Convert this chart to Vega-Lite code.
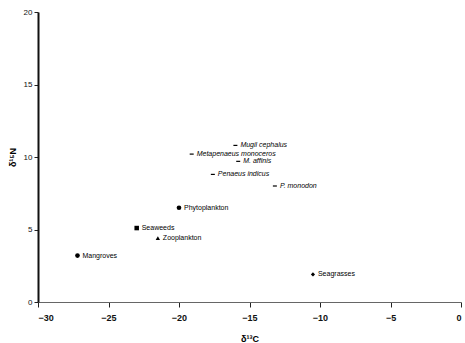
{
  "$schema": "https://vega.github.io/schema/vega-lite/v6.json",
  "width": 423,
  "height": 290,
  "autosize": {"type": "none"},
  "padding": {"left": 38, "top": 12, "right": 4, "bottom": 41},
  "background": "white",
  "config": {"view": {"stroke": null}, "font": "Liberation Sans"},
  "data": {
    "values": [
      {"name": "Mangroves", "c": -27.2, "n": 3.2, "kind": "circle", "group": "source"},
      {"name": "Seaweeds", "c": -23.0, "n": 5.1, "kind": "square", "group": "source"},
      {"name": "Zooplankton", "c": -21.5, "n": 4.4, "kind": "triangle", "group": "source"},
      {"name": "Phytoplankton", "c": -20.0, "n": 6.5, "kind": "circle", "group": "source"},
      {"name": "Seagrasses", "c": -10.5, "n": 1.9, "kind": "diamond", "group": "source"},
      {"name": "Mugil cephalus", "c": -16.0, "n": 10.8, "kind": "dash", "group": "consumer"},
      {"name": "Metapenaeus monoceros", "c": -19.1, "n": 10.2, "kind": "dash", "group": "consumer"},
      {"name": "M. affinis", "c": -15.8, "n": 9.7, "kind": "dash", "group": "consumer"},
      {"name": "Penaeus indicus", "c": -17.6, "n": 8.8, "kind": "dash", "group": "consumer"},
      {"name": "P. monodon", "c": -13.2, "n": 8.0, "kind": "dash", "group": "consumer"}
    ]
  },
  "encoding": {
    "x": {
      "field": "c", "type": "quantitative",
      "scale": {"domain": [-30, 0], "nice": false, "zero": false},
      "axis": {
        "title": "δ¹³C", "titleFontSize": 9, "titleFontWeight": "bold", "titlePadding": 12,
        "values": [-30, -25, -20, -15, -10, -5, 0],
        "labelFontSize": 9, "labelFontWeight": "bold", "labelColor": "#111",
        "grid": false, "domainColor": "#666", "tickColor": "#222", "tickSize": 5,
        "labelPadding": 6
      }
    },
    "y": {
      "field": "n", "type": "quantitative",
      "scale": {"domain": [0, 20], "nice": false},
      "axis": {
        "title": "δ¹⁵N", "titleFontSize": 9, "titleFontWeight": "bold", "titlePadding": 6,
        "values": [0, 5, 10, 15, 20],
        "labelFontSize": 8, "labelColor": "#111",
        "grid": false, "domainColor": "#111", "domainWidth": 2, "tickColor": "#222", "tickSize": 4
      }
    }
  },
  "layer": [
    {
      "mark": {"type": "point", "filled": true, "color": "black", "opacity": 1},
      "encoding": {
        "shape": {
          "field": "kind", "type": "nominal", "legend": null,
          "scale": {
            "domain": ["circle", "square", "triangle", "diamond", "dash"],
            "range": ["circle", "square", "triangle-up", "diamond", "M-1,-0.3H1V0.3H-1Z"]
          }
        },
        "size": {
          "field": "kind", "type": "nominal", "legend": null,
          "scale": {
            "domain": ["circle", "square", "triangle", "diamond", "dash"],
            "range": [22, 16, 14, 22, 14]
          }
        }
      }
    },
    {
      "transform": [{"filter": "datum.group == 'source'"}],
      "mark": {"type": "text", "align": "left", "baseline": "middle", "dx": 5, "fontSize": 7, "color": "black"},
      "encoding": {"text": {"field": "name"}}
    },
    {
      "transform": [{"filter": "datum.group == 'consumer'"}],
      "mark": {"type": "text", "align": "left", "baseline": "middle", "dx": 5, "fontSize": 7, "fontStyle": "italic", "color": "black"},
      "encoding": {"text": {"field": "name"}}
    }
  ]
}
